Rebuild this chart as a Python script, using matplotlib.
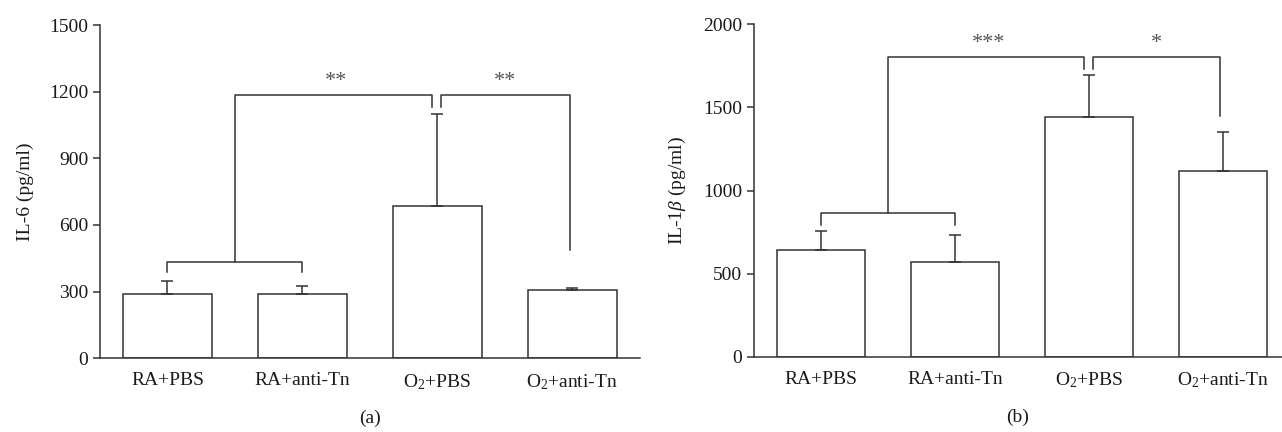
import matplotlib
matplotlib.use("Agg")
import matplotlib.pyplot as plt
import numpy as np

plt.rcParams['font.family'] = ['Liberation Serif', 'DejaVu Serif']
plt.rcParams['mathtext.fontset'] = 'custom'
plt.rcParams['mathtext.rm'] = 'Liberation Serif'
plt.rcParams['mathtext.it'] = 'Liberation Serif:italic'

groups = ["RA+PBS", "RA+anti-Tn", "O$_2$+PBS", "O$_2$+anti-Tn"]

il6_mean = [287, 290, 683, 306]
il6_err = [60, 36, 415, 12]
il6_brackets = [387, 432, 1132, 1187, 487]   # leg bottoms / bracket heights
il6_stars = ["**", "**"]

il1b_mean = [645, 571, 1441, 1116]
il1b_err = [112, 162, 256, 237]
il1b_brackets = [792, 862, 1733, 1804, 1449]
il1b_stars = ["***", "*"]

col = "#333333"
txt = "#1a1a1a"


def panel(ax, mean, err, ymax, yticks, ylabel, brackets, stars, letter, xmax):
    x = np.arange(len(mean))
    ax.bar(x, mean, width=0.66, color="white", edgecolor=col, linewidth=1.1, zorder=2)
    ax.errorbar(x, mean, yerr=[np.zeros(len(err)), err], fmt="none", ecolor=col,
                elinewidth=1.1, capsize=4, capthick=1.1, zorder=3)
    leg_lo, br_lo, leg_hi, br_hi, leg_r = brackets
    # lower bracket joining RA groups
    ax.plot([x[0], x[0], x[1], x[1]], [leg_lo, br_lo, br_lo, leg_lo], color=col, lw=1.1)
    mid = (x[0] + x[1]) / 2
    ax.plot([mid, mid, x[2] - 0.04, x[2] - 0.04], [br_lo, br_hi, br_hi, leg_hi], color=col, lw=1.1)
    ax.plot([x[2] + 0.03, x[2] + 0.03, x[3] - 0.02, x[3] - 0.02], [leg_hi, br_hi, br_hi, leg_r],
            color=col, lw=1.1)
    ax.text((mid + x[2]) / 2, br_hi + ymax * 0.04, stars[0], ha="center", va="center",
            fontsize=16, color="#555555")
    ax.text((x[2] + x[3]) / 2, br_hi + ymax * 0.04, stars[1], ha="center", va="center",
            fontsize=16, color="#555555")

    ax.set_xlim(-0.5, xmax)
    ax.set_ylim(0, ymax)
    ax.set_yticks(yticks)
    ax.set_xticks(x)
    ax.set_xticklabels(groups)
    ax.tick_params(axis="x", length=0, pad=10, labelsize=14, labelcolor=txt)
    ax.tick_params(axis="y", length=5, width=1.1, labelsize=14, labelcolor=txt,
                   color=col, direction="out")
    for s in ["top", "right"]:
        ax.spines[s].set_visible(False)
    for s in ["left", "bottom"]:
        ax.spines[s].set_color(col)
        ax.spines[s].set_linewidth(1.1)
    ax.set_ylabel(ylabel, fontsize=14, color=txt, labelpad=11)
    ax.text(0.5, -0.155, letter, transform=ax.transAxes, ha="center", va="top",
            fontsize=14, color=txt)


fig = plt.figure(figsize=(12.82, 4.32), dpi=100)
ax1 = fig.add_axes([0.078, 0.171, 0.421, 0.771])
ax2 = fig.add_axes([0.588, 0.174, 0.412, 0.770])

panel(ax1, il6_mean, il6_err, 1500, [0, 300, 600, 900, 1200, 1500], "IL-6 (pg/ml)",
      il6_brackets, il6_stars, "(a)", 3.5)
panel(ax2, il1b_mean, il1b_err, 2000, [0, 500, 1000, 1500, 2000], r"IL-1$\beta$ (pg/ml)",
      il1b_brackets, il1b_stars, "(b)", 3.44)

fig.savefig("out.png", dpi=100)
